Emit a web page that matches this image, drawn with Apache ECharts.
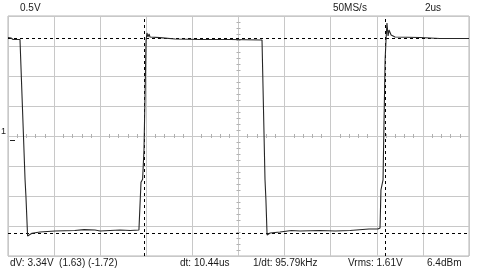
<!DOCTYPE html>
<html>
<head>
<meta charset="utf-8">
<script src="https://cdn.jsdelivr.net/npm/echarts@6/dist/echarts.min.js"></script>
<style>
html,body{margin:0;padding:0;background:#fff;}
#chart{width:480px;height:275px;}
</style>
</head>
<body>
<div id="chart"></div>
<script>
// Time axis (microseconds) and voltage (V) of the trace
const timeUs = [0, 0.13, 0.22, 0.52, 0.56, 0.74, 0.78, 0.85, 0.87, 1.04, 1.39, 2.04, 2.9, 3.3, 3.77, 4.0, 4.86, 5.3, 5.68,
  5.73, 5.77, 5.84, 5.9, 5.99, 6.03, 6.07, 6.12, 6.16, 6.59, 7.25, 8.33, 9.63, 11.02,
  11.15, 11.19, 11.24, 11.28, 11.37, 11.8, 12.3, 12.67, 13.54, 14.2, 14.84, 15.66, 16.05,
  16.14, 16.18, 16.27, 16.36, 16.4, 16.44, 16.49, 16.53, 16.62, 16.79, 17.87, 18.74, 20];
const voltsV = [1.642, 1.633, 1.608, 1.608, 1.58, -0.73, -1.02, -1.667, -1.65, -1.62, -1.6, -1.583, -1.575, -1.56, -1.567, -1.583, -1.567, -1.575, -1.567,
  -1.55, -0.77, -0.72, -0.23, 1.6, 1.717, 1.65, 1.7, 1.65, 1.64, 1.617, 1.608, 1.608, 1.6,
  -0.73, -1.067, -1.65, -1.683, -1.617, -1.6, -1.575, -1.583, -1.575, -1.583, -1.575, -1.55, -1.55,
  -1.533, -0.9, -0.733, 1.267, 1.6, 1.883, 1.667, 1.767, 1.683, 1.65, 1.642, 1.625, 1.625];
// Cursor positions
const timeCursors = [5.9, 16.36];
const voltCursors = [1.63, -1.62];
// Header / footer texts
const headerTexts = ['0.5V', '50MS/s', '2us'];
const footerTexts = ['dV: 3.34V  (1.63) (-1.72)', 'dt: 10.44us', '1/dt: 95.79kHz', 'Vrms: 1.61V', '6.4dBm'];
const channelLabel = '1';

const trace = timeUs.map((t, i) => [t, voltsV[i]]);

const chart = echarts.init(document.getElementById('chart'), null, {renderer: 'canvas'});
const font = 'Liberation Sans, Arial, sans-serif';
const txt = {fontFamily: font, fontSize: 10, fill: '#1a1a1a'};

const gridColor = '#c8c8c8';
const centerAxisCommon = (inside) => ({
  type: 'value', min: 0, max: 20, interval: 2,
  axisLine: {show: true, onZero: true, lineStyle: {color: gridColor, width: 1}},
  axisTick: {show: false, inside: inside, length: 2},
  minorTick: {show: true, splitNumber: 5, length: 2, lineStyle: {color: '#b0b0b0'}},
  axisLabel: {show: false}, splitLine: {show: false}
});

const option = {
  animation: false,
  backgroundColor: '#fff',
  grid: {left: 8, top: 16, width: 461, height: 240, show: true, borderColor: '#b4b4b4', borderWidth: 1},
  xAxis: [
    {type: 'value', min: 0, max: 20, interval: 2,
     axisLine: {show: false}, axisTick: {show: false}, axisLabel: {show: false},
     splitLine: {show: true, lineStyle: {color: gridColor, width: 1}}},
    centerAxisCommon(true),
    centerAxisCommon(false)
  ],
  yAxis: [
    {type: 'value', min: -2, max: 2, interval: 0.5,
     axisLine: {show: false}, axisTick: {show: false}, axisLabel: {show: false},
     splitLine: {show: true, lineStyle: {color: gridColor, width: 1}}},
    {type: 'value', min: -2, max: 2, interval: 0.5, position: 'left', offset: -230.5,
     axisLine: {show: true, onZero: false, lineStyle: {color: gridColor}},
     axisTick: {show: false, inside: true},
     minorTick: {show: true, splitNumber: 5, length: 2, lineStyle: {color: '#b0b0b0'}},
     axisLabel: {show: false}, splitLine: {show: false}},
    {type: 'value', min: -2, max: 2, interval: 0.5, position: 'left', offset: -230.5,
     axisLine: {show: false, onZero: false},
     axisTick: {show: false, inside: false},
     minorTick: {show: true, splitNumber: 5, length: 2, lineStyle: {color: '#b0b0b0'}},
     axisLabel: {show: false}, splitLine: {show: false}}
  ],
  series: [
    {type: 'line', xAxisIndex: 0, yAxisIndex: 0, data: trace, showSymbol: false, symbol: 'none',
     lineStyle: {color: '#262626', width: 1.1}, z: 5,
     markLine: {
       silent: true, symbol: ['none', 'none'], label: {show: false},
       lineStyle: {color: '#000', width: 1, type: [3, 3]},
       data: timeCursors.map(v => ({xAxis: v})).concat(voltCursors.map(v => ({yAxis: v})))
     }},
    {type: 'line', xAxisIndex: 1, yAxisIndex: 0, data: [], symbol: 'none'},
    {type: 'line', xAxisIndex: 2, yAxisIndex: 0, data: [], symbol: 'none'},
    {type: 'line', xAxisIndex: 0, yAxisIndex: 1, data: [], symbol: 'none'},
    {type: 'line', xAxisIndex: 0, yAxisIndex: 2, data: [], symbol: 'none'}
  ],
  graphic: [
    {type: 'text', left: 20, top: 3, style: Object.assign({text: headerTexts[0]}, txt)},
    {type: 'text', left: 333, top: 3, style: Object.assign({text: headerTexts[1]}, txt)},
    {type: 'text', left: 425, top: 3, style: Object.assign({text: headerTexts[2]}, txt)},
    {type: 'text', left: 10, top: 258, style: Object.assign({text: footerTexts[0]}, txt)},
    {type: 'text', left: 180, top: 258, style: Object.assign({text: footerTexts[1]}, txt)},
    {type: 'text', left: 253, top: 258, style: Object.assign({text: footerTexts[2]}, txt)},
    {type: 'text', left: 348, top: 258, style: Object.assign({text: footerTexts[3]}, txt)},
    {type: 'text', left: 427, top: 258, style: Object.assign({text: footerTexts[4]}, txt)},
    {type: 'text', left: 1, top: 127, style: Object.assign({text: channelLabel}, txt, {fontSize: 9})},
    {type: 'rect', shape: {x: 10, y: 140, width: 5, height: 1}, style: {fill: '#222'}}
  ]
};
chart.setOption(option);
</script>
</body>
</html>
